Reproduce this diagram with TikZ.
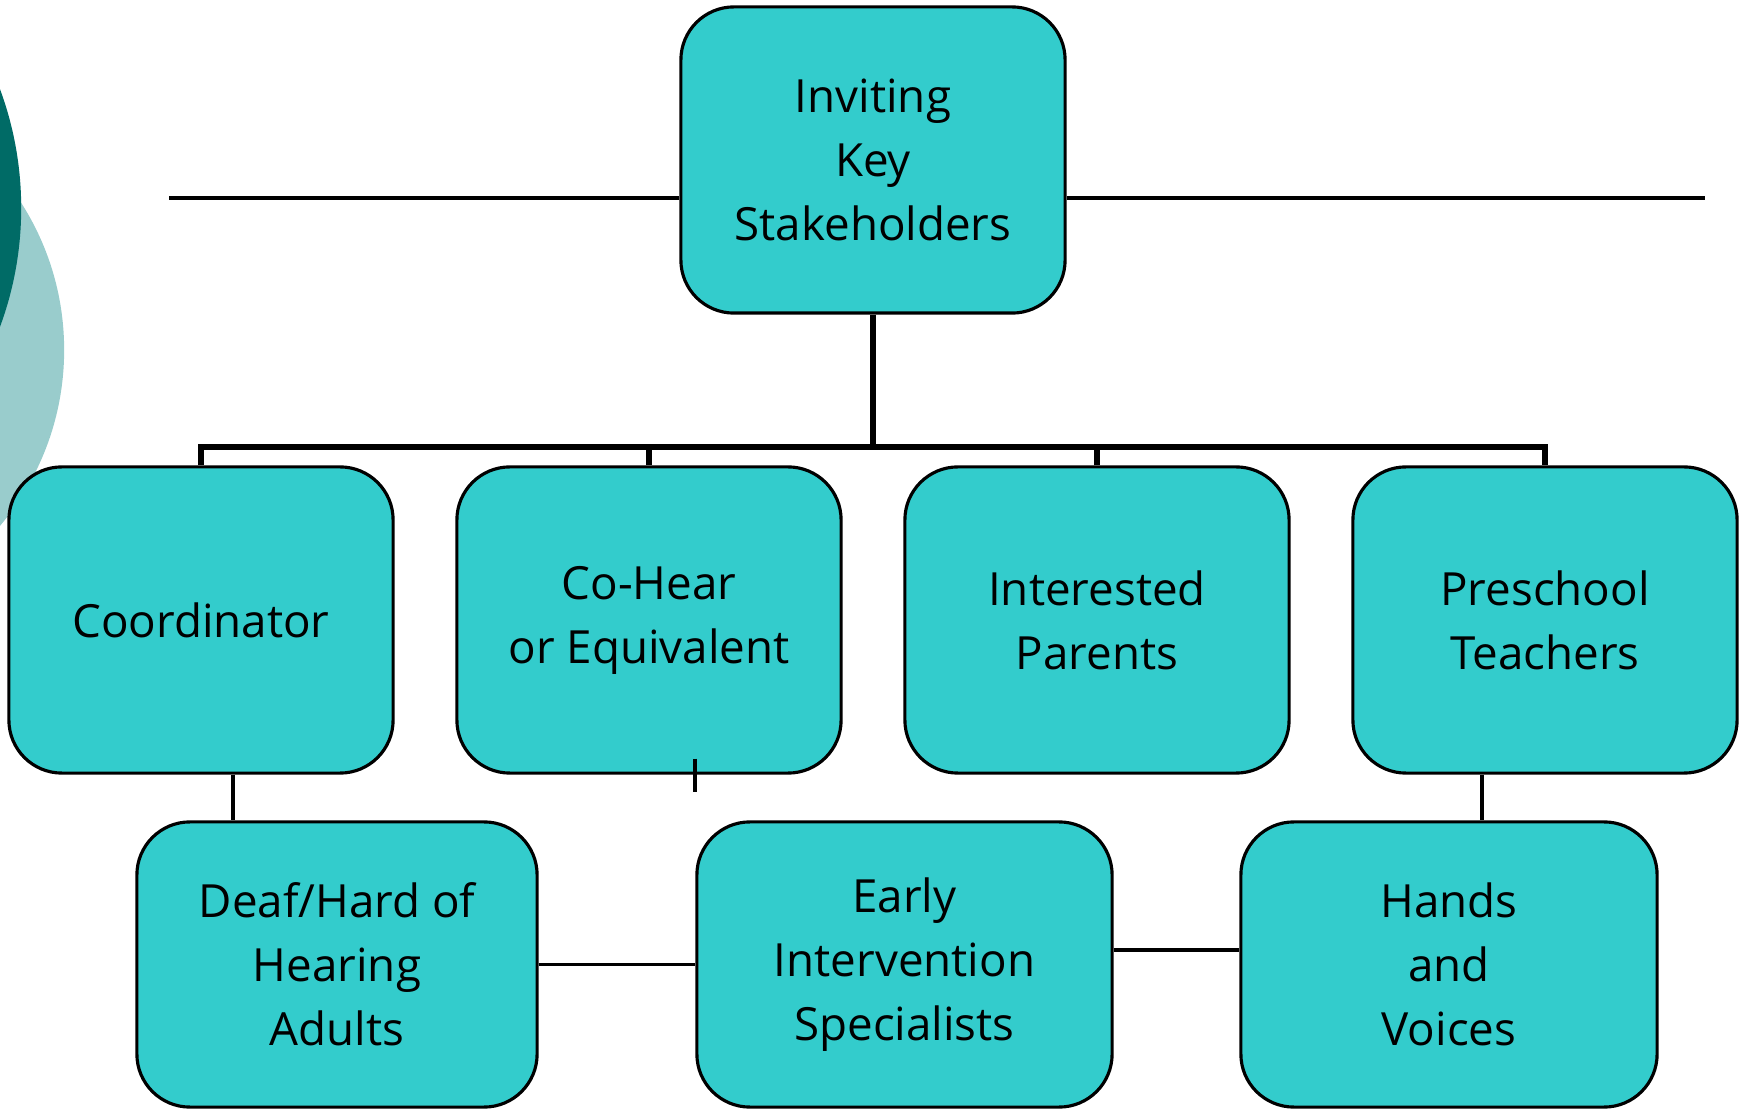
\documentclass[tikz,border=0pt]{standalone}
\usepackage{fontspec}
\setmainfont{Open Sans}
\definecolor{boxfill}{HTML}{33CCCC}
\definecolor{darkteal}{HTML}{006B66}
\definecolor{paleteal}{HTML}{99CCCC}
\tikzset{
	stakebox/.style={draw=black, line width=0.9pt, fill=boxfill, rounded corners=0.53cm, align=center, inner sep=0pt, font=\fontsize{13}{18.2}\selectfont},
	thinline/.style={line width=1.1pt},
	thickline/.style={line width=1.8pt}
}
\begin{document}
\begin{tikzpicture}[x=0.01cm, y=-0.01cm]
			\useasboundingbox (0,0) rectangle (1739,1110);
			\begin{scope}
				\clip (0,0) rectangle (1739,1110);
				\fill[paleteal] (-209,350) circle[radius=2.73cm];
				\fill[darkteal] (-321,208) circle[radius=3.42cm];
			\end{scope}
			\coordinate (lend) at (169,198);
			\coordinate (rend) at (1705,198);
			\coordinate (bus) at (873,447);
			\node[stakebox, minimum width=3.84cm, minimum height=3.06cm] (invite) at (873,160) {Inviting\\Key\\Stakeholders};
			\foreach \x/\name/\txt in {201/coord/{Coordinator}, 649/cohear/{Co-Hear\\or Equivalent}, 1097/parents/{Interested\\Parents}, 1545/teachers/{Preschool\\Teachers}}{
				\node[stakebox, minimum width=3.84cm, minimum height=3.06cm] (\name) at (\x,620) {\txt};
			}
			\node[stakebox, minimum width=4cm, minimum height=2.85cm] (adults) at (337,964.5) {Deaf/Hard of\\Hearing\\Adults};
			\node[stakebox, minimum width=4.15cm, minimum height=2.85cm] (early) at (904.5,964.5) {Early\\Intervention\\Specialists};
			\node[stakebox, minimum width=4.16cm, minimum height=2.85cm] (hands) at (1449,964.5) {Hands\\and\\Voices};
			\draw[thinline] (lend) -- (lend -| invite.west);
			\draw[thinline] (rend -| invite.east) -- (rend);
			\draw[thickline] (invite.south) -- (bus);
			\draw[thickline] (coord.north) -- (coord.north |- bus) -- (teachers.north |- bus) -- (teachers.north);
			\foreach \name in {cohear, parents}{
				\draw[thickline] (\name.north) -- (\name.north |- bus);
			}
			\draw[thinline] ([xshift=0.32cm]coord.south) -- ([xshift=0.32cm]coord.south |- adults.north);
			\draw[thinline] ([xshift=-0.63cm]teachers.south) -- ([xshift=-0.63cm]teachers.south |- hands.north);
			\draw[thinline] (cohear.south -| early.west) ++(0,-16) -- ++(0,33);
			\draw[thinline] (adults.east) -- (adults.east -| early.west);
			\draw[thinline] ([yshift=0.145cm]early.east) -- ([yshift=0.145cm]early.east -| hands.west);
		\end{tikzpicture}
\end{document}
